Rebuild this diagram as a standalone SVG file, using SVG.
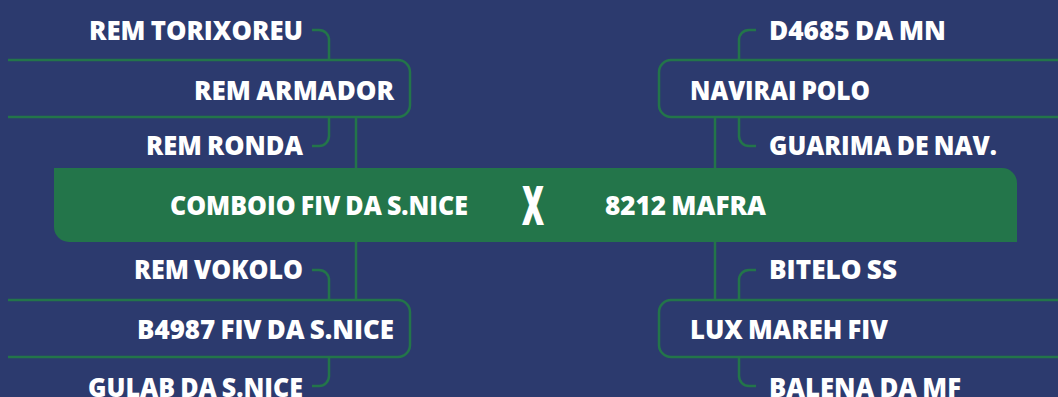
<svg xmlns="http://www.w3.org/2000/svg" width="1058" height="397" viewBox="0 0 1058 397">
<style>
.ln{fill:none;stroke:#23754a;stroke-width:2.5}
.t{font-family:"Open Sans","Liberation Sans",sans-serif;font-weight:800;font-size:27px;word-spacing:-1.5px;fill:#ffffff}
.x{font-family:"Open Sans","Liberation Sans",sans-serif;font-weight:800;font-size:54px;fill:#ffffff}
</style>
<rect width="1058" height="397" fill="#2c3a6e"/>
<g id="connectors">
<path class="ln" d="M312,30 H319 A10,10 0 0 1 329,40 V60"/>
<path class="ln" d="M329,117 V136 A10,10 0 0 1 319,146 H312"/>
<path class="ln" d="M356,117 V168"/>
<path class="ln" d="M356,242 V300"/>
<path class="ln" d="M312,270 H319 A10,10 0 0 1 329,280 V300"/>
<path class="ln" d="M329,357 V376 A10,10 0 0 1 319,386 H312"/>
<path class="ln" d="M756,30 H749 A10,10 0 0 0 739,40 V60"/>
<path class="ln" d="M739,117 V136 A10,10 0 0 0 749,146 H756"/>
<path class="ln" d="M715,117 V168"/>
<path class="ln" d="M715,242 V300"/>
<path class="ln" d="M756,270 H749 A10,10 0 0 0 739,280 V300"/>
<path class="ln" d="M739,357 V376 A10,10 0 0 0 749,386 H756"/>
</g>
<g id="center">
<path d="M54,168 H1002 A15,15 0 0 1 1017,183 V242 H69 A15,15 0 0 1 54,227 Z" fill="#23754a"/>
<text class="t" x="170" y="215" textLength="298" lengthAdjust="spacingAndGlyphs">COMBOIO FIV DA S.NICE</text>
<text class="x" x="522" y="225" textLength="22" lengthAdjust="spacingAndGlyphs">X</text>
<text class="t" x="605" y="215" textLength="161" lengthAdjust="spacingAndGlyphs">8212 MAFRA</text>
</g>
<g id="rem-torixoreu"><text class="t" x="89" y="40" textLength="214" lengthAdjust="spacingAndGlyphs">REM TORIXOREU</text></g>
<g id="rem-armador">
<path class="ln" d="M8,60 H398 A12,12 0 0 1 410,72 V105 A12,12 0 0 1 398,117 H8"/>
<text class="t" x="194" y="100" textLength="200" lengthAdjust="spacingAndGlyphs">REM ARMADOR</text>
</g>
<g id="rem-ronda"><text class="t" x="146" y="155" textLength="157" lengthAdjust="spacingAndGlyphs">REM RONDA</text></g>
<g id="rem-vokolo"><text class="t" x="134" y="279" textLength="169" lengthAdjust="spacingAndGlyphs">REM VOKOLO</text></g>
<g id="b4987">
<path class="ln" d="M8,300 H398 A12,12 0 0 1 410,312 V345 A12,12 0 0 1 398,357 H8"/>
<text class="t" x="137" y="339" textLength="257" lengthAdjust="spacingAndGlyphs">B4987 FIV DA S.NICE</text>
</g>
<g id="gulab"><text class="t" x="88" y="397" textLength="215" lengthAdjust="spacingAndGlyphs">GULAB DA S.NICE</text></g>
<g id="d4685"><text class="t" x="769" y="40" textLength="177" lengthAdjust="spacingAndGlyphs">D4685 DA MN</text></g>
<g id="navirai">
<path class="ln" d="M1060,60 H671 A12,12 0 0 0 659,72 V105 A12,12 0 0 0 671,117 H1060"/>
<text class="t" x="690" y="100" textLength="180" lengthAdjust="spacingAndGlyphs">NAVIRAI POLO</text>
</g>
<g id="guarima"><text class="t" x="769" y="155" textLength="228" lengthAdjust="spacingAndGlyphs">GUARIMA DE NAV.</text></g>
<g id="bitelo"><text class="t" x="769" y="279" textLength="128" lengthAdjust="spacingAndGlyphs">BITELO SS</text></g>
<g id="lux-mareh">
<path class="ln" d="M1060,300 H671 A12,12 0 0 0 659,312 V345 A12,12 0 0 0 671,357 H1060"/>
<text class="t" x="690" y="339" textLength="198" lengthAdjust="spacingAndGlyphs">LUX MAREH FIV</text>
</g>
<g id="balena"><text class="t" x="769" y="397" textLength="192" lengthAdjust="spacingAndGlyphs">BALENA DA MF</text></g>
</svg>
